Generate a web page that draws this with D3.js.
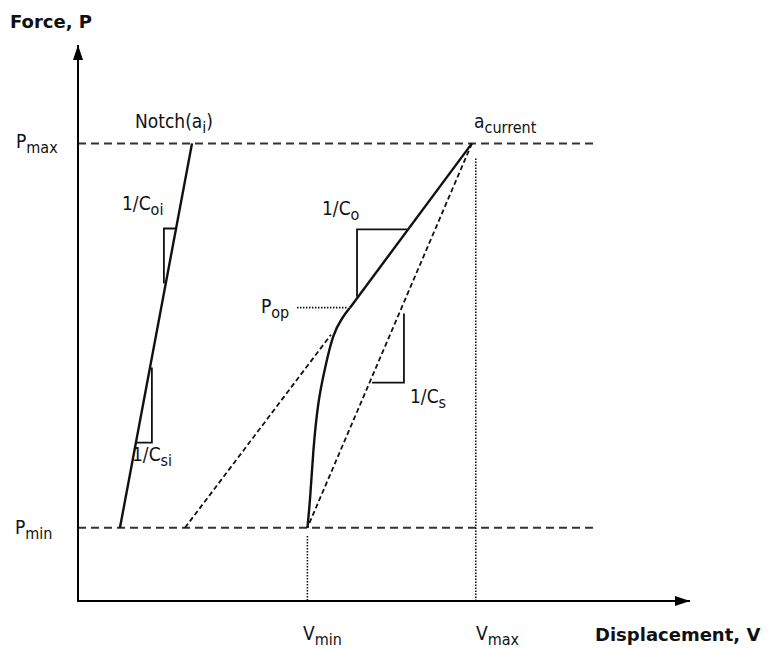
<!DOCTYPE html>
<html>
<head>
<meta charset="utf-8">
<script src="https://cdn.jsdelivr.net/npm/d3@7"></script>
<style>
  body { margin: 0; background: #fff; }
  text { font-family: "DejaVu Sans Condensed", "DejaVu Sans", sans-serif; fill: #111; }
  .bold { font-family: "DejaVu Sans", sans-serif; font-weight: bold; }
</style>
</head>
<body>
<div id="chart"></div>
<script>
// schematic values (displacement V, force P) in arbitrary units
const P_MIN = 1.6, P_MAX = 10, P_OP = 6.41;
const V_MIN = 10.12, V_MAX = 17.55;
const A_CURRENT = [17.38, P_MAX];

const notchLine = [[1.85, P_MIN], [5.03, P_MAX]];

const loadCurve = [
    [V_MIN, P_MIN], [10.24, 2.19], [10.37, 3.28], [10.59, 4.38],
    [10.90, 5.10], [11.25, 5.84], [11.65, 6.19], [12.0, P_OP]
];
const upperLine = [[12.0, P_OP], A_CURRENT];

const secantLine = [A_CURRENT, [V_MIN, P_MIN]];
const offsetLine = [[4.72, P_MIN], [11.16, 5.82]];

const popLine = [[9.66, P_OP], [11.87, P_OP]];

// slope triangles
const triCoi = [[4.32, 8.14], [3.79, 8.14], [3.79, 6.94]];
const triCsi = [[3.26, 5.10], [3.26, 3.46], [2.60, 3.46]];
const triCo = [[14.51, 8.12], [12.31, 8.12], [12.31, 6.65]];
const triCs = [[14.38, 6.28], [14.38, 4.77], [12.97, 4.77]];

const width = 768, height = 648;

const svg = d3.select("#chart")
    .append("svg")
    .attr("width", width)
    .attr("height", height);

const x = d3.scaleLinear().domain([0, 27]).range([78, 690]);
const y = d3.scaleLinear().domain([0, 12.15]).range([601, 45]);

const line = d3.line().x(d => x(d[0])).y(d => y(d[1]));
const curve = d3.line().x(d => x(d[0])).y(d => y(d[1])).curve(d3.curveBasis);

const draw = (pts, w, dash, gen = line, col = "#111") =>
    svg.append("path")
        .attr("d", gen(pts))
        .attr("fill", "none")
        .attr("stroke", col)
        .attr("stroke-width", w)
        .attr("stroke-dasharray", dash);

// reference levels
draw([[0, P_MAX], [22.8, P_MAX]], 2, "8,5", line, "#333");
draw([[0, P_MIN], [22.8, P_MIN]], 2, "8,5", line, "#333");

// vertical dotted markers
draw([[V_MIN, 1.42], [V_MIN, 0]], 1.6, "1.5,1.5");
draw([[V_MAX, 9.67], [V_MAX, 0]], 1.6, "1.5,1.5");
draw(popLine, 1.6, "1.5,1.5");

// axes
svg.append("path")
    .attr("d", line([[0, 12.15], [0, 0], [27, 0]]))
    .attr("fill", "none")
    .attr("stroke", "#000")
    .attr("stroke-width", 2);

svg.append("path")
    .attr("d", `M${x(0)},${y(12.15)} l-5,15 l10,0 z`)
    .attr("fill", "#000");
svg.append("path")
    .attr("d", `M${x(27)},${y(0)} l-15,-5 l0,10 z`)
    .attr("fill", "#000");

// dashed stiffness lines
draw(secantLine, 1.8, "5,3");
draw(offsetLine, 1.8, "5,3");

// solid curves
draw(notchLine, 2.4, null);
draw(loadCurve, 2.4, null, curve);
draw(upperLine, 2.4, null);

[triCoi, triCsi, triCo, triCs].forEach(t => draw(t, 1.8, null));

// labels
function label(xp, yp, main, sub, cls) {
    const t = svg.append("text")
        .attr("x", xp)
        .attr("y", yp)
        .style("font-size", "19px");
    if (cls) t.attr("class", cls);
    t.append("tspan").text(main);
    if (sub) {
        t.append("tspan")
            .attr("dy", 5)
            .style("font-size", "16px")
            .text(sub);
    }
    return t;
}

label(10, 28, "Force, P", null, "bold").style("font-size", "18px");
label(595, 641, "Displacement, V", null, "bold").style("font-size", "18px");

label(16, 148, "P", "max");
label(15, 534, "P", "min");
label(303, 640, "V", "min");
label(476, 640, "V", "max");

const notch = label(135, 128, "Notch(a", "i");
notch.append("tspan").attr("dy", -5).text(")");

label(474, 128, "a", "current");
label(122, 210, "1/C", "oi");
label(132, 461, "1/C", "si");
label(322, 215, "1/C", "o");
label(410, 403, "1/C", "s");
label(261, 313, "P", "op");
</script>
</body>
</html>
